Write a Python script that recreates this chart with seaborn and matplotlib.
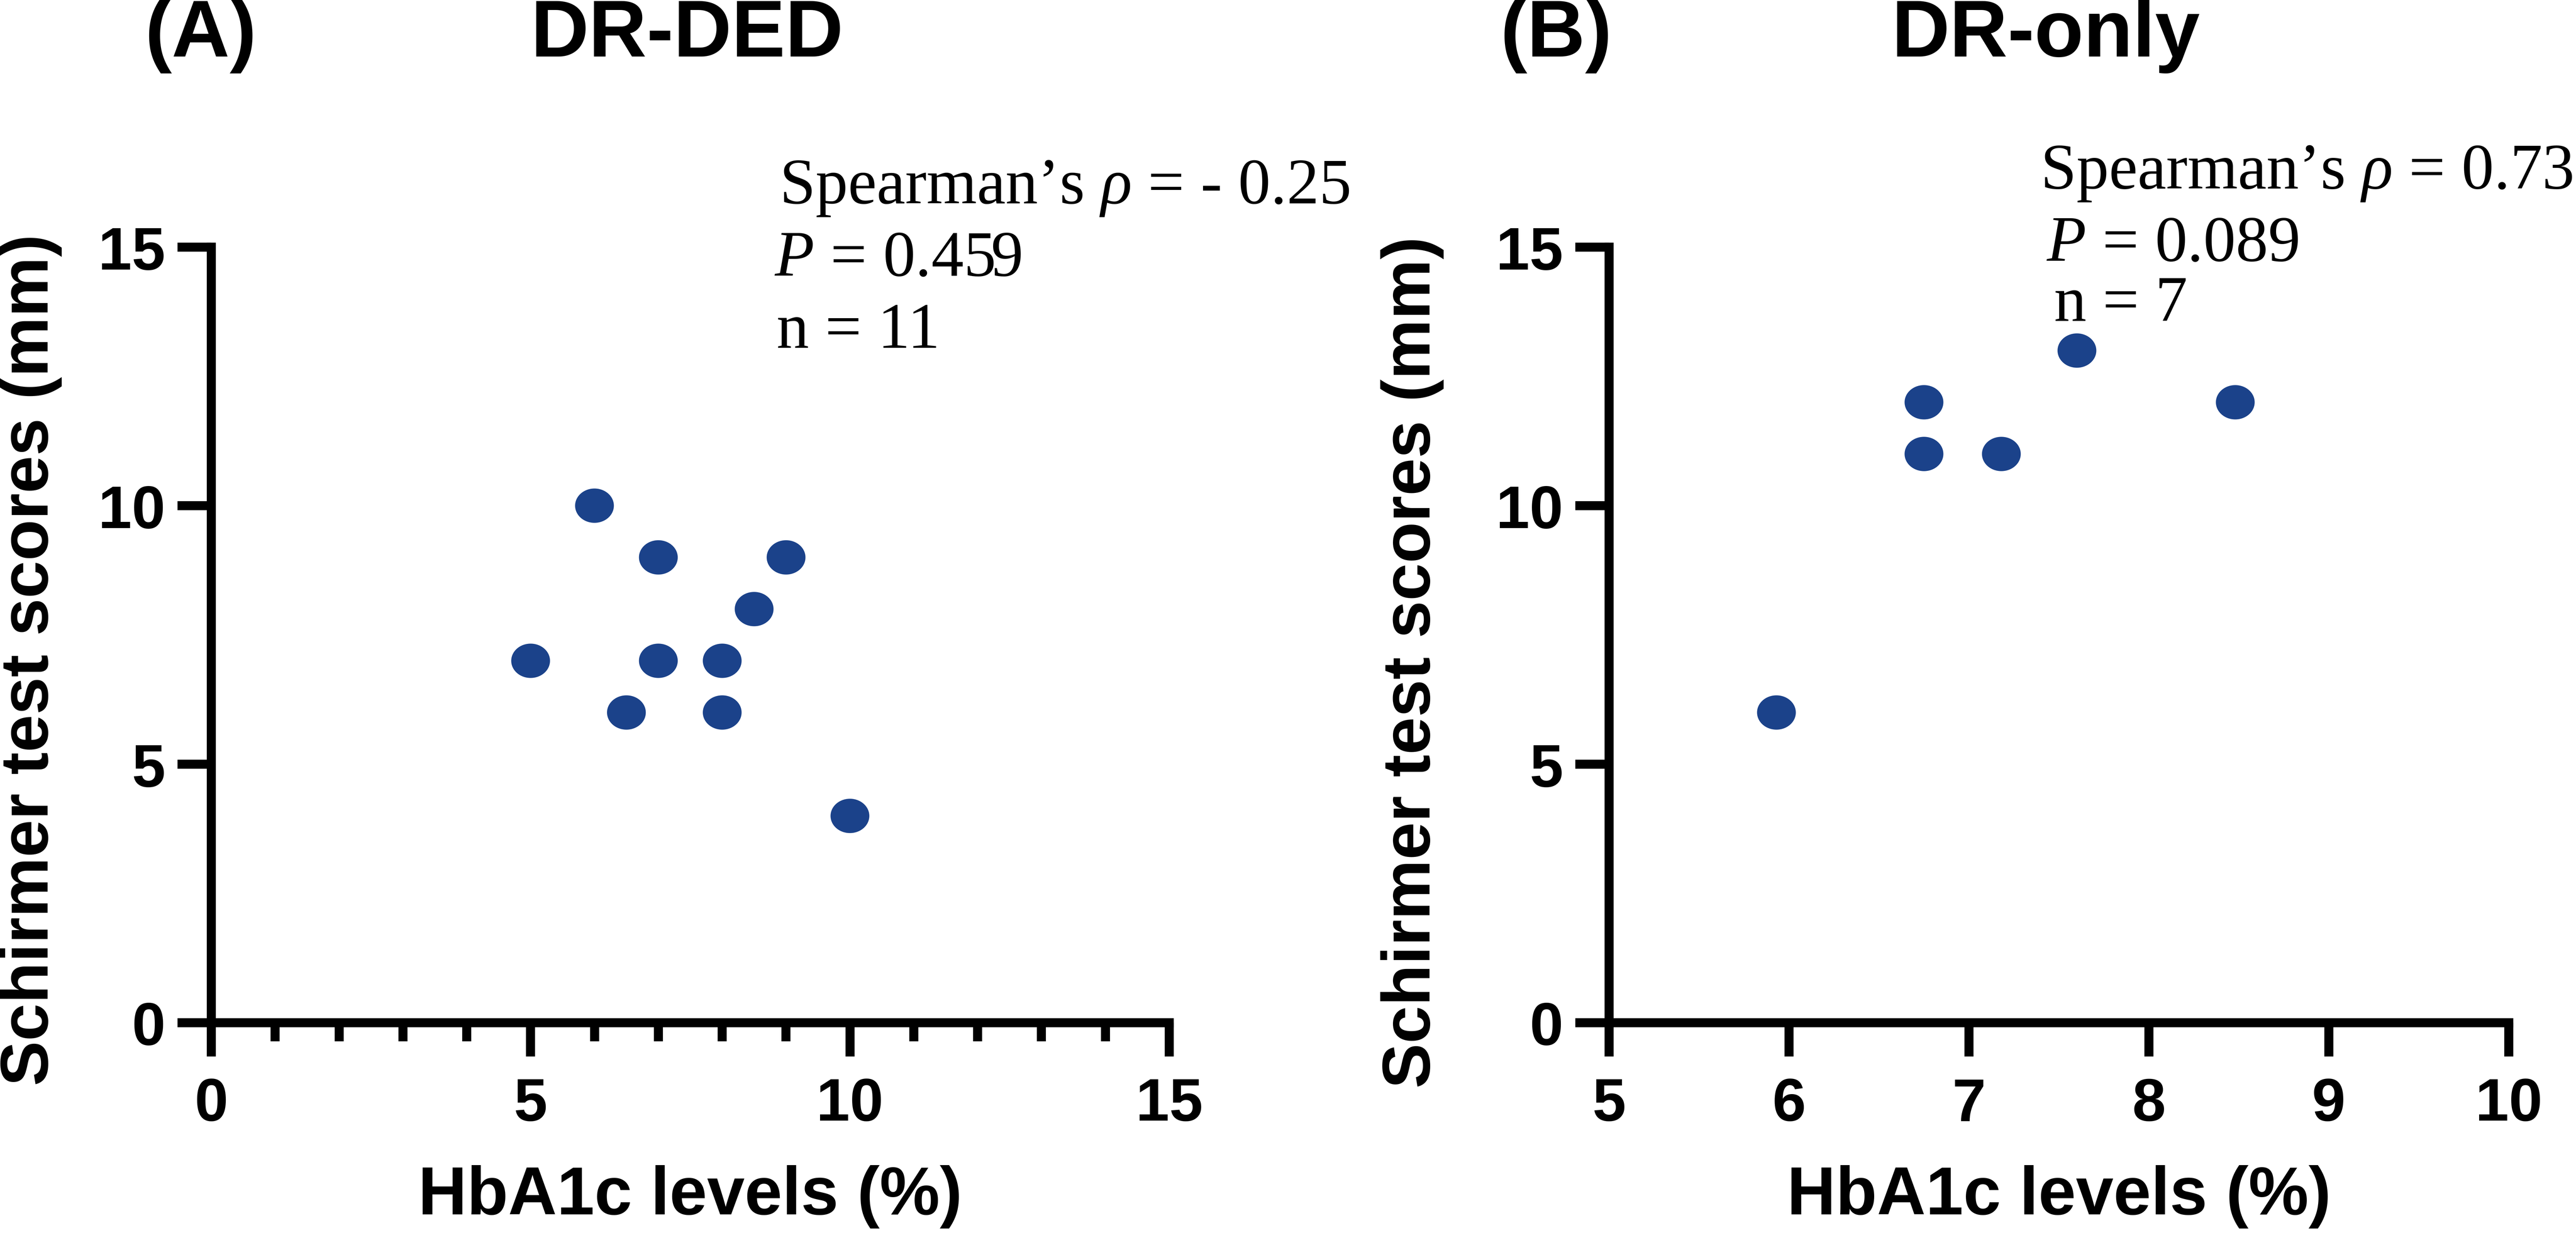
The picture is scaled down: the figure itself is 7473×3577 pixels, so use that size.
import numpy as np
import pandas as pd
import matplotlib
matplotlib.use("Agg")
import matplotlib.pyplot as plt
import seaborn as sns
from matplotlib.path import Path
from matplotlib.ticker import MultipleLocator

# ---------------- data ----------------
hba1c_ded = [5, 6, 6.5, 7, 7, 8, 8, 8.5, 9, 10]
schirmer_ded = [7, 10, 6, 9, 7, 7, 6, 8, 9, 4]
hba1c_only = [5.93, 6.75, 6.75, 7.18, 7.6, 8.48]
schirmer_only = [6, 12, 11, 11, 13, 12]

panel_letters = ["(A)", "(B)"]
panel_titles = ["DR-DED", "DR-only"]
stats_rho = ["- 0.25", "0.73"]
stats_p = ["0.459", "0.089"]
stats_n = ["11", "7"]
xlabel = "HbA1c levels (%)"
ylabel = "Schirmer test scores (mm)"
xticks_ded = [0, 5, 10, 15]
xticks_only = [5, 6, 7, 8, 9, 10]
yticks = [0, 5, 10, 15]

# ---------------- style ----------------
sns.set_theme(style="ticks")
plt.rcParams["font.family"] = ["Liberation Sans", "DejaVu Sans"]
plt.rcParams["font.weight"] = "bold"
plt.rcParams["mathtext.fontset"] = "custom"
plt.rcParams["mathtext.rm"] = "Liberation Serif:weight=normal"
plt.rcParams["mathtext.it"] = "Liberation Serif:style=italic:weight=normal"
plt.rcParams["axes.linewidth"] = 6.3
for key in ["text.color", "axes.labelcolor", "xtick.color", "ytick.color",
            "axes.edgecolor", "xtick.labelcolor", "ytick.labelcolor"]:
    plt.rcParams[key] = "black"

W, H = 7473, 3578
DPI = 300
fig = plt.figure(figsize=(W / DPI, H / DPI), dpi=DPI)
fig.patch.set_facecolor("white")

def fx(px):
    return px / W

def fy(py):
    return 1 - py / H

y_bottom_px, y_top_px = 2968, 718
A_left, A_right = 613, 3392
B_left, B_right = 4668, 7278
axA = fig.add_axes([fx(A_left), fy(y_bottom_px), (A_right - A_left) / W, (y_bottom_px - y_top_px) / H])
axB = fig.add_axes([fx(B_left), fy(y_bottom_px), (B_right - B_left) / W, (y_bottom_px - y_top_px) / H])

t = np.linspace(0, 2 * np.pi, 120)
ellipse = Path(np.column_stack([np.cos(t), 0.885 * np.sin(t)]), closed=True)
dot_color = "#1B428A"

df_ded = pd.DataFrame({"HbA1c": hba1c_ded, "Schirmer": schirmer_ded})
df_only = pd.DataFrame({"HbA1c": hba1c_only, "Schirmer": schirmer_only})

for ax, df, xlim, xt in [(axA, df_ded, (0, 15), xticks_ded), (axB, df_only, (5, 10), xticks_only)]:
    sns.scatterplot(data=df, x="HbA1c", y="Schirmer", ax=ax, marker=ellipse,
                    s=27 ** 2, color=dot_color, edgecolor="none", linewidth=0,
                    legend=False, clip_on=False, zorder=3)
    ax.set_xlim(*xlim)
    ax.set_ylim(0, 15)
    ax.set_xticks(xt)
    ax.set_yticks(yticks)
    ax.set_xticklabels([str(v) for v in xt], fontsize=42, fontweight="bold", color="black")
    ax.set_yticklabels([str(v) for v in yticks], fontsize=42, fontweight="bold", color="black")
    for s in ["top", "right"]:
        ax.spines[s].set_visible(False)
    for s in ["left", "bottom"]:
        ax.spines[s].set_linewidth(6.3)
        ax.spines[s].set_color("black")
    ax.tick_params(axis="both", which="major", length=23.5, width=6.3, color="black", direction="out")
    ax.tick_params(axis="x", which="major", pad=14)
    ax.tick_params(axis="y", which="major", pad=8.5)
    ax.set_xlabel(xlabel, fontsize=47, fontweight="bold", color="black")
    ax.set_ylabel(ylabel, fontsize=47, fontweight="bold", color="black")
    ax.xaxis.set_label_coords(0.5, -0.183)
    ax.set_facecolor("white")
    ax.grid(False)

axA.xaxis.set_minor_locator(MultipleLocator(1))
axA.tick_params(axis="x", which="minor", length=13, width=6.3, color="black", direction="out")
# y-label anchor is the right edge of the rotated label
axA.yaxis.set_label_coords((180 - A_left) / (A_right - A_left), 0.468)
axB.yaxis.set_label_coords((4189 - B_left) / (B_right - B_left), 0.465)

# panel letters and titles
title_kw = dict(va="baseline", fontsize=56, fontweight="bold", color="black")
fig.text(fx(420), fy(164), panel_letters[0], ha="left", **title_kw)
fig.text(fx(1993), fy(164), panel_titles[0], ha="center", **title_kw)
fig.text(fx(4352), fy(164), panel_letters[1], ha="left", **title_kw)
fig.text(fx(5935), fy(164), panel_titles[1], ha="center", **title_kw)

# statistics annotations
serif = dict(family="Liberation Serif", weight="normal", size=45, color="black")
annA = [(2261, 590, "Spearman\u2019s $\\rho$ = " + stats_rho[0]),
        (2246, 800, "$P$ = " + stats_p[0]),
        (2253, 1009, "n = " + stats_n[0])]
annB = [(5919, 547, "Spearman\u2019s $\\rho$ = " + stats_rho[1]),
        (5936, 757, "$P$ = " + stats_p[1]),
        (5959, 931, "n = " + stats_n[1])]
for x, y, s in annA + annB:
    fig.text(fx(x), fy(y), s, ha="left", va="baseline", fontdict=serif)

fig.savefig("out.png", dpi=DPI, facecolor="white")
